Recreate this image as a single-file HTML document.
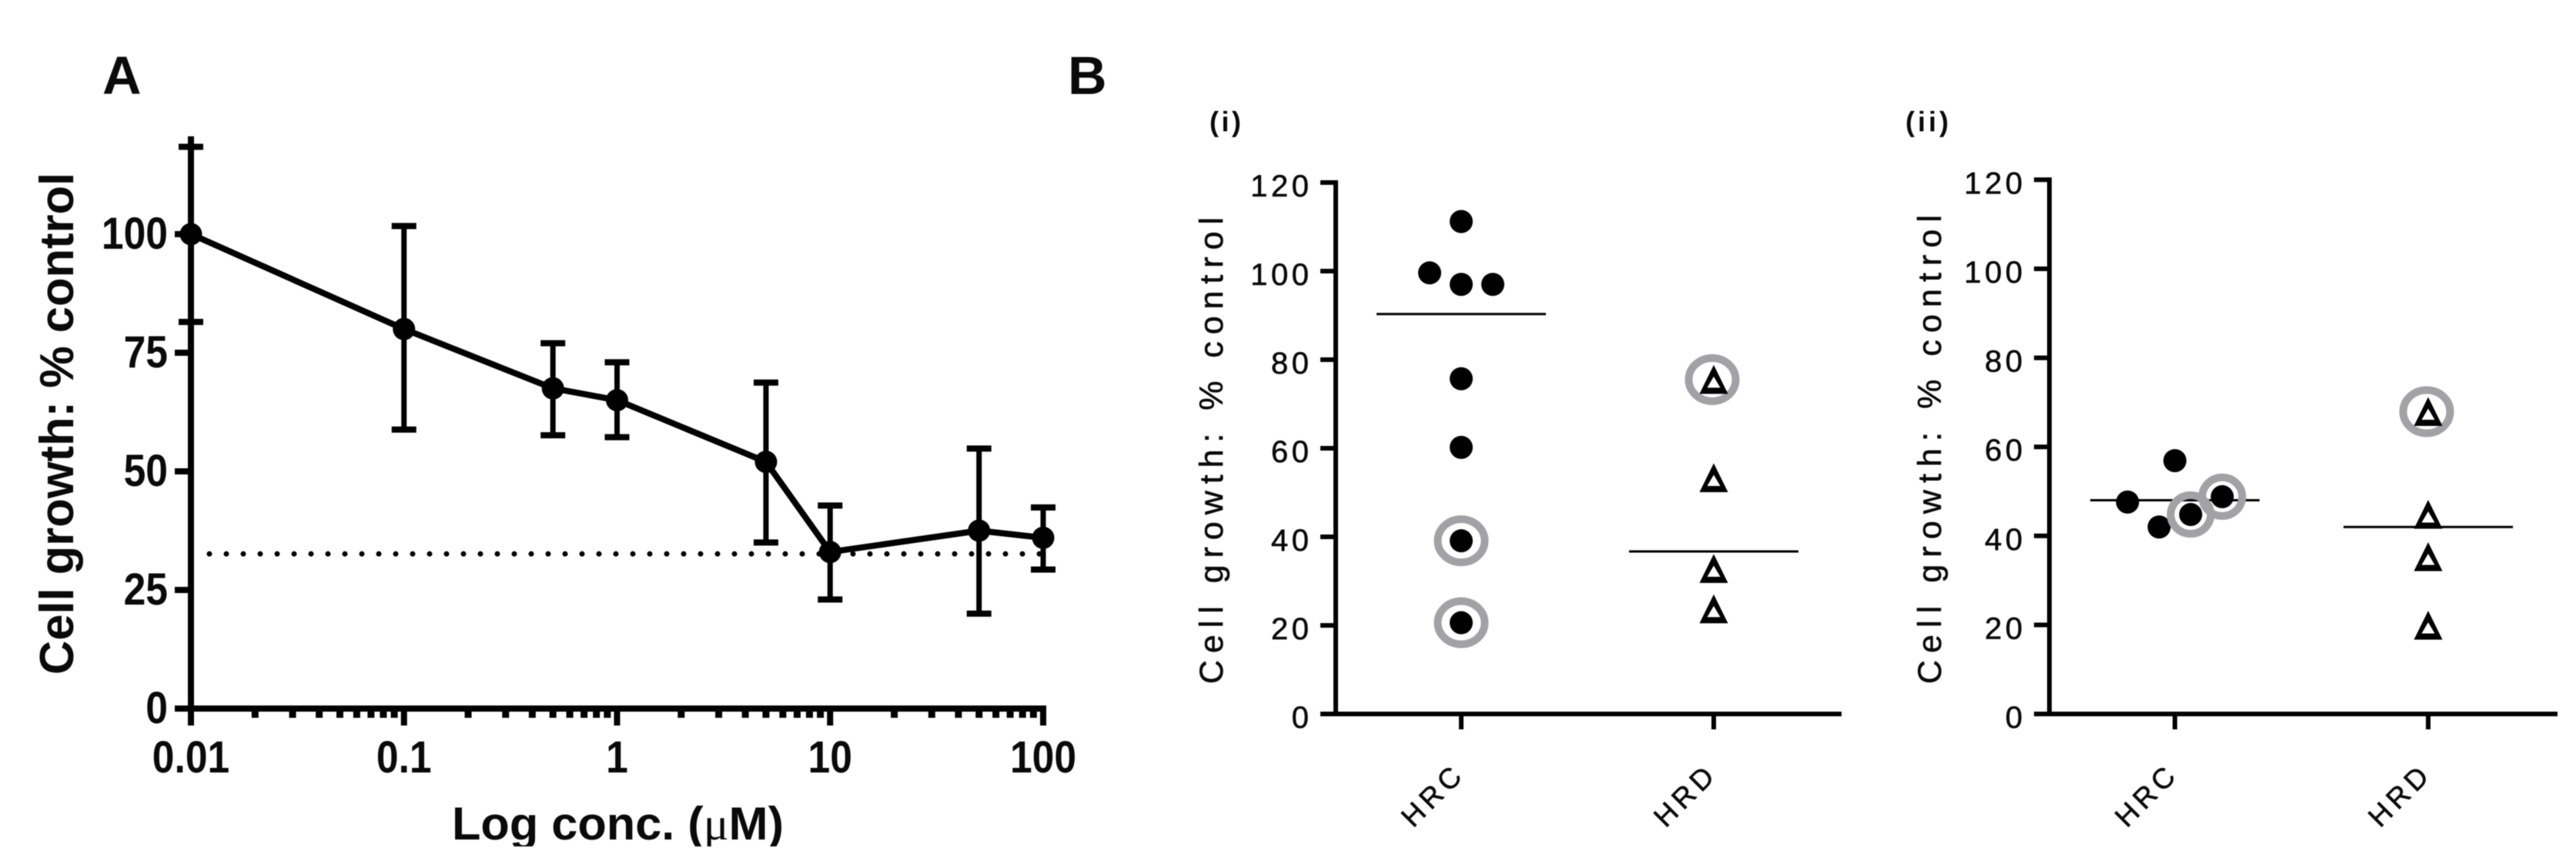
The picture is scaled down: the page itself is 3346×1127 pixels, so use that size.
<!DOCTYPE html>
<html lang="en">
<head>
<meta charset="utf-8">
<title>Cell growth dose response and HRC/HRD scatter</title>
<style>
  html, body { margin: 0; padding: 0; background: #fff; }
  #figure { display: block; width: 3346px; height: 1127px; filter: blur(0.6px); }
  text { font-family: "Liberation Sans", sans-serif; fill: #0a0a0a; }
  .thin { stroke: #0a0a0a; stroke-width: 0.6px; }
</style>
</head>
<body>
<svg id="figure" xmlns="http://www.w3.org/2000/svg" width="3346" height="1127" viewBox="0 0 3346 1127">
  <rect width="3346" height="1127" fill="#fff"></rect>
  <text x="133" y="122" font-size="70" font-weight="bold">A</text>
  <text x="1387" y="122" font-size="70" font-weight="bold">B</text>
  <text x="1571" y="170.5" font-size="36" font-weight="bold" textLength="41">(i)</text>
  <text x="2475" y="170.5" font-size="36" font-weight="bold" textLength="56">(ii)</text>

  <text transform="translate(95,876) rotate(-90)" font-size="62" font-weight="bold" textLength="652" lengthAdjust="spacingAndGlyphs">Cell growth: % control</text>
  <text x="587" y="1090" font-size="60" font-weight="bold" textLength="431" lengthAdjust="spacingAndGlyphs">Log conc. (<tspan font-family="Liberation Serif, serif" font-weight="normal">μ</tspan>M)</text>
  <rect x="500" y="1099" width="600" height="28" fill="#fff"></rect>
  <text class="thin" transform="translate(1588,888) rotate(-90)" font-size="43" textLength="606" lengthAdjust="spacing">Cell growth: % control</text>
  <text class="thin" transform="translate(2521,888) rotate(-90)" font-size="43" textLength="609" lengthAdjust="spacing">Cell growth: % control</text>

  <g id="panel-a"></g>
  <g id="panel-i"></g>
  <g id="panel-ii"></g>
</svg>

<script>
// ---- Panel A data ----
const doseConcentrations = [0.01, 0.1, 0.5, 1, 5, 10, 50, 100];
const doseMeans = [100, 80, 67.5, 65, 52, 33, 37.5, 36];
const doseErrorHigh = [118.4, 101.7, 77, 73, 68.7, 42.8, 54.8, 42.4];
const doseErrorLow = [81.5, 58.8, 57.6, 57.2, 35, 23, 20, 29.3];
const doseReferenceLevel = [32.6];
const doseXTicks = [0.01, 0.1, 1, 10, 100];
const doseXTickLabels = ['0.01', '0.1', '1', '10', '100'];
const doseYTicks = [0, 25, 50, 75, 100];
const doseYTickLabels = ['0', '25', '50', '75', '100'];

// ---- Panel B data ----
const scatterYTicks = [0, 20, 40, 60, 80, 100, 120];
const scatterGroups = ['HRC', 'HRD'];

const panelIHrcValues = [111.2, 99.6, 97, 97, 75.7, 60.2, 39.1, 20.6];
const panelIHrcSwarmSlots = [0, -1, 0, 1, 0, 0, 0, 0];
const panelIHrcRinged = [false, false, false, false, false, false, true, true];
const panelIHrcMean = [90.3];
const panelIHrdValues = [75.5, 53.3, 32.8, 23.7];
const panelIHrdSwarmSlots = [0, 0, 0, 0];
const panelIHrdRinged = [true, false, false, false];
const panelIHrdMean = [36.7];

const panelIiHrcValues = [56.9, 47.6, 42, 44.8, 48.8];
const panelIiHrcSwarmSlots = [0, -1.5, -0.5, 0.5, 1.5];
const panelIiHrcRinged = [false, false, false, true, true];
const panelIiHrcMean = [48];
const panelIiHrdValues = [67.9, 44.8, 35.3, 19.9];
const panelIiHrdSwarmSlots = [0, 0, 0, 0];
const panelIiHrdRinged = [true, false, false, false];
const panelIiHrdMean = [42];

// ---- Helpers ----
const SVG_NS = 'http://www.w3.org/2000/svg';
function make(parent, tag, attrs, text) {
  const el = document.createElementNS(SVG_NS, tag);
  for (const k in attrs) el.setAttribute(k, attrs[k]);
  if (text !== undefined) el.textContent = text;
  parent.appendChild(el);
  return el;
}
function seg(parent, x1, y1, x2, y2, w, cap) {
  return make(parent, 'line', { x1, y1, x2, y2, stroke: '#000', 'stroke-width': w, 'stroke-linecap': cap || 'butt' });
}

// ---- Panel A ----
(function drawPanelA() {
  const g = document.getElementById('panel-a');
  const xScale = v => 248 + (Math.log10(v) + 2) * 276.75;
  const yScale = v => 920 - v * 6.16;

  const xAxis = seg(g, 248, 920, 1359, 920, 8);
  
  
  const yAxis = seg(g, 248, 177, 248, 924, 8);
  
  

  doseYTicks.forEach((v, i) => {
    const t = seg(g, 227, yScale(v), 248, yScale(v), 8);
    
    
    const l = make(g, 'text', {
      transform: 'translate(218,' + (yScale(v) + 19) + ') scale(0.89,1)',
      'font-size': 58, 'font-weight': 'bold', 'text-anchor': 'end'
    }, doseYTickLabels[i]);
    
    
  });

  doseXTicks.forEach((v, i) => {
    const t = seg(g, xScale(v), 920, xScale(v), 942, 8);
    
    
    const l = make(g, 'text', {
      transform: 'translate(' + xScale(v) + ',1003) scale(0.89,1)',
      'font-size': 58, 'font-weight': 'bold', 'text-anchor': 'middle'
    }, doseXTickLabels[i]);
    
    
    if (i < doseXTicks.length - 1) {
      for (let m = 2; m <= 9; m++) {
        const mt = seg(g, xScale(v * m), 920, xScale(v * m), 932, 9);
        
        
      }
    }
  });

  const ref = make(g, 'line', {
    x1: 272, y1: yScale(doseReferenceLevel[0]), x2: 1355, y2: yScale(doseReferenceLevel[0]),
    stroke: '#000', 'stroke-width': 7, 'stroke-dasharray': '0 22', 'stroke-linecap': 'round'
  });
  
  

  doseConcentrations.forEach((c, i) => {
    const x = xScale(c);
    const e = seg(g, x, yScale(doseErrorHigh[i]), x, yScale(doseErrorLow[i]), 7);
    
    
    [doseErrorHigh[i], doseErrorLow[i]].forEach(v => {
      const cap = seg(g, x - 16, yScale(v), x + 16, yScale(v), 8);
      
      
    });
  });

  const pts = doseConcentrations.map((c, i) => xScale(c) + ',' + yScale(doseMeans[i])).join(' ');
  const line = make(g, 'polyline', { points: pts, fill: 'none', stroke: '#000', 'stroke-width': 8, 'stroke-linejoin': 'round' });
  
  

  doseConcentrations.forEach((c, i) => {
    const p = make(g, 'circle', { cx: xScale(c), cy: yScale(doseMeans[i]), r: 14.5, fill: '#000' });
    
    
  });
})();

// ---- Panel B ----
function drawScatterPanel(cfg) {
  const g = document.getElementById(cfg.id);
  const yScale = v => cfg.y0 - v * cfg.yUnit;
  const slotWidth = 41;

  const xAxis = seg(g, cfg.axisX - 3, cfg.y0, cfg.axisEnd, cfg.y0, 6);
  
  
  const yAxis = seg(g, cfg.axisX, yScale(120) - 3, cfg.axisX, cfg.y0 + 3, 6);
  
  

  scatterYTicks.forEach(v => {
    const t = seg(g, cfg.axisX - 20, yScale(v), cfg.axisX, yScale(v), 6);
    
    
    const l = make(g, 'text', {
      class: 'thin',
      x: cfg.axisX - 30.5, y: yScale(v) + 18, 'font-size': 40, 'text-anchor': 'end', 'letter-spacing': 4.5
    }, String(v));
    
    
  });

  scatterGroups.forEach((name, i) => {
    const cx = cfg.groupX[i];
    const t = seg(g, cx, cfg.y0, cx, cfg.y0 + 20, 6);
    
    
    const l = make(g, 'text', {
      class: 'thin',
      transform: 'translate(' + (cx - 37) + ',1032) rotate(-45)',
      y: 13, 'font-size': 37, 'text-anchor': 'middle', 'letter-spacing': 6
    }, name);
    
    

    const s = cfg.series[i];
    const mean = seg(g, cx - cfg.meanHalf, yScale(s.mean[0]), cx + cfg.meanHalf, yScale(s.mean[0]), 3);
    
    

    s.values.forEach((v, j) => {
      const px = cx + s.slots[j] * slotWidth;
      const py = yScale(v);
      if (s.ringed[j]) {
        const ring = make(g, 'ellipse', {
          cx: px - (i === 1 ? 2 : 0), cy: py, rx: s.ringRx, ry: s.ringRy, fill: 'none', stroke: '#a2a2a6', 'stroke-width': 10
        });
        
        
      }
      if (i === 0) {
        const dot = make(g, 'circle', { cx: px, cy: py, r: 15, fill: '#000' });
        
        
      } else {
        const tri = make(g, 'path', {
          d: 'M' + px + ' ' + (py - 19) + 'L' + (px + 18.5) + ' ' + (py + 18.5) + 'L' + (px - 18.5) + ' ' + (py + 18.5) + 'Z' +
             'M' + px + ' ' + (py - 4) + 'L' + (px - 8.5) + ' ' + (py + 10.5) + 'L' + (px + 8.5) + ' ' + (py + 10.5) + 'Z',
          fill: '#000', 'fill-rule': 'evenodd'
        });
        
        
      }
    });
  });
}

drawScatterPanel({
  id: 'panel-i', axisX: 1735, axisEnd: 2392, y0: 927, yUnit: 5.75,
  groupX: [1898, 2226], meanHalf: 110,
  series: [
    { values: panelIHrcValues, slots: panelIHrcSwarmSlots, ringed: panelIHrcRinged, mean: panelIHrcMean, ringRx: 30.5, ringRy: 28 },
    { values: panelIHrdValues, slots: panelIHrdSwarmSlots, ringed: panelIHrdRinged, mean: panelIHrdMean, ringRx: 30.5, ringRy: 28 }
  ]
});
drawScatterPanel({
  id: 'panel-ii', axisX: 2662, axisEnd: 3322, y0: 927, yUnit: 5.78,
  groupX: [2825, 3154], meanHalf: 110,
  series: [
    { values: panelIiHrcValues, slots: panelIiHrcSwarmSlots, ringed: panelIiHrcRinged, mean: panelIiHrcMean, ringRx: 26, ringRy: 25 },
    { values: panelIiHrdValues, slots: panelIiHrdSwarmSlots, ringed: panelIiHrdRinged, mean: panelIiHrdMean, ringRx: 30.5, ringRy: 28 }
  ]
});
</script>
</body>
</html>
